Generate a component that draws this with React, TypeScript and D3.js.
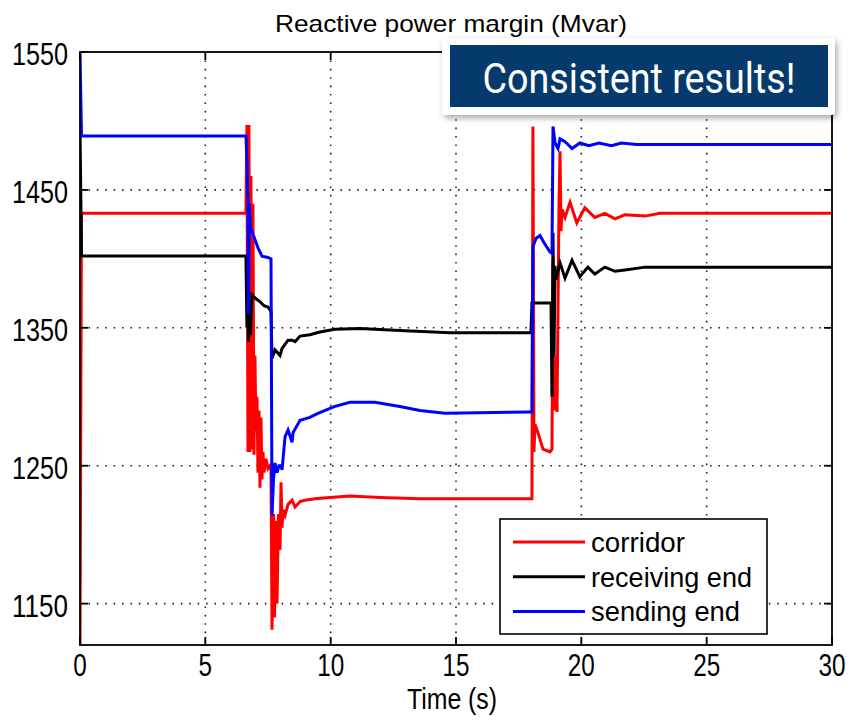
/**
 * Reactive power margin chart. D3 line + frame, ref+useEffect pattern, clear+redraw.
 */
import React, { useRef, useEffect } from 'react';
import * as d3 from 'd3';

const WIDTH = 856;
const HEIGHT = 721;
const PLOT = { left: 80, right: 832, top: 52, bottom: 645 };

const TIME_TICKS = [0, 5, 10, 15, 20, 25, 30];
const MARGIN_TICKS = [1150, 1250, 1350, 1450, 1550];
const SERIES_NAMES = ['corridor', 'receiving end', 'sending end'];

type Pt = [number, number];

// corridor (time s, Mvar)
const corridor: Pt[] = [
  [0, 1120], [0.06, 1433], [6.62, 1433], [6.66, 1497], [6.7, 1260], [6.74, 1497], [6.78, 1260],
  [6.82, 1460], [6.86, 1262], [6.9, 1440], [6.94, 1258], [6.98, 1330], [7.02, 1275], [7.06, 1300],
  [7.1, 1245], [7.14, 1290], [7.18, 1234], [7.22, 1285], [7.26, 1240], [7.3, 1260], [7.34, 1245],
  [7.42, 1255], [7.5, 1248], [7.58, 1250], [7.62, 1246], [7.66, 1131], [7.72, 1215], [7.76, 1140],
  [7.82, 1210], [7.86, 1150], [7.92, 1215], [7.98, 1189], [8.02, 1238], [8.06, 1205], [8.1, 1218],
  [8.18, 1214], [8.3, 1222], [8.46, 1225], [8.58, 1220], [8.78, 1224], [8.97, 1225], [9.37, 1226],
  [9.97, 1227], [10.77, 1228], [11.97, 1227], [13.56, 1226], [17.95, 1226], [18.03, 1226],
  [18.07, 1496], [18.11, 1260], [18.15, 1280], [18.27, 1274], [18.47, 1262], [18.75, 1260],
  [18.83, 1262], [18.87, 1400], [18.91, 1290], [18.95, 1330], [19.03, 1289], [19.11, 1440],
  [19.15, 1478], [19.19, 1420], [19.23, 1436], [19.35, 1430], [19.55, 1441], [19.82, 1426],
  [20.14, 1437], [20.54, 1430], [20.94, 1433], [21.34, 1429], [21.74, 1432], [22.54, 1431],
  [23.14, 1433], [30, 1433],
];

// receiving end
const receivingEnd: Pt[] = [
  [0, 1495], [0.06, 1402], [6.62, 1402], [6.66, 1350], [6.7, 1375], [6.72, 1340], [6.76, 1365],
  [6.8, 1345], [6.86, 1374], [7.02, 1371], [7.18, 1369], [7.34, 1366], [7.5, 1365], [7.62, 1362],
  [7.66, 1328], [7.78, 1334], [7.98, 1330], [8.06, 1335], [8.3, 1341], [8.46, 1341], [8.58, 1340],
  [8.78, 1344], [9.17, 1345], [9.57, 1347], [10.17, 1349], [11.17, 1349.5], [12.76, 1348],
  [14.76, 1346.5], [17.99, 1346.5], [18.03, 1368], [18.79, 1368], [18.83, 1300], [18.87, 1419],
  [18.91, 1330], [18.95, 1395], [18.99, 1385], [19.15, 1397], [19.35, 1386], [19.63, 1399],
  [19.94, 1387], [20.26, 1394], [20.54, 1389], [20.94, 1394], [21.34, 1391], [21.74, 1392],
  [22.54, 1394], [30, 1394],
];

// sending end
const sendingEnd: Pt[] = [
  [0, 1550], [0.06, 1489], [6.62, 1489], [6.66, 1472], [6.7, 1440], [6.72, 1360], [6.76, 1440],
  [6.8, 1422], [6.86, 1420], [7.02, 1412], [7.1, 1408], [7.26, 1402], [7.5, 1401], [7.62, 1400],
  [7.66, 1214], [7.72, 1240], [7.78, 1252], [7.86, 1245], [7.94, 1250], [8.02, 1250], [8.06, 1247],
  [8.18, 1271], [8.3, 1276], [8.46, 1267], [8.5, 1274], [8.78, 1283], [9.17, 1285], [9.49, 1288],
  [10.17, 1293], [10.77, 1296], [11.77, 1296], [12.76, 1293], [13.56, 1290], [14.56, 1288],
  [17.95, 1289], [18.03, 1289], [18.07, 1409], [18.2, 1415], [18.35, 1417], [18.5, 1412],
  [18.75, 1405], [18.83, 1404], [18.87, 1496], [18.95, 1484], [19.07, 1480], [19.15, 1487],
  [19.35, 1485], [19.63, 1480], [19.94, 1484], [20.3, 1482], [20.7, 1484], [21.2, 1482],
  [21.6, 1484], [22.2, 1483], [30, 1483],
];

const SERIES = [corridor, receivingEnd, sendingEnd];
const COLORS = ['#FF0000', '#000000', '#0000FF'];
const FONT = "'Liberation Sans', Arial, sans-serif";

const App: React.FC = () => {
  const svgRef = useRef<SVGSVGElement>(null);

  useEffect(() => {
    if (!svgRef.current) return;
    const svg = d3.select(svgRef.current);
    svg.selectAll('*').remove();

    const x = d3.scaleLinear().domain([0, 30]).range([PLOT.left, PLOT.right]);
    const y = d3.scaleLinear().domain([1120, 1550]).range([PLOT.bottom, PLOT.top]);

    svg.append('rect').attr('width', WIDTH).attr('height', HEIGHT).attr('fill', '#fff');

    const defs = svg.append('defs');
    defs.append('clipPath').attr('id', 'plot-clip')
      .append('rect')
      .attr('x', PLOT.left).attr('y', PLOT.top)
      .attr('width', PLOT.right - PLOT.left).attr('height', PLOT.bottom - PLOT.top);
    defs.append('filter').attr('id', 'shadow').attr('x', '-10%').attr('y', '-20%').attr('width', '120%').attr('height', '150%')
      .append('feDropShadow')
      .attr('dx', 2).attr('dy', 3).attr('stdDeviation', 3)
      .attr('flood-color', '#000').attr('flood-opacity', 0.35);

    // dotted grid
    const grid = svg.append('g').attr('stroke', '#222').attr('stroke-width', 1.6).attr('stroke-dasharray', '1.6,6.8');
    TIME_TICKS.filter((t) => t > 0 && t < 30).forEach((t) => {
      grid.append('line').attr('x1', x(t)).attr('x2', x(t)).attr('y1', PLOT.top).attr('y2', PLOT.bottom);
    });
    MARGIN_TICKS.filter((v) => v < 1550).forEach((v) => {
      grid.append('line').attr('x1', PLOT.left).attr('x2', PLOT.right).attr('y1', y(v)).attr('y2', y(v));
    });

    // series
    const line = d3.line<Pt>().x((d) => x(d[0])).y((d) => y(d[1]));
    const lines = svg.append('g').attr('clip-path', 'url(#plot-clip)');
    SERIES.forEach((s, i) => {
      lines.append('path')
        .attr('d', line(s) ?? '')
        .attr('fill', 'none')
        .attr('stroke', COLORS[i])
        .attr('stroke-width', 3)
        .attr('stroke-linejoin', 'miter');
    });

    // frame and inward ticks
    const frame = svg.append('g').attr('stroke', '#000').attr('stroke-width', 1.8);
    frame.append('rect')
      .attr('x', PLOT.left).attr('y', PLOT.top)
      .attr('width', PLOT.right - PLOT.left).attr('height', PLOT.bottom - PLOT.top)
      .attr('fill', 'none');
    TIME_TICKS.forEach((t) => {
      frame.append('line').attr('x1', x(t)).attr('x2', x(t)).attr('y1', PLOT.bottom).attr('y2', PLOT.bottom - 8);
      frame.append('line').attr('x1', x(t)).attr('x2', x(t)).attr('y1', PLOT.top).attr('y2', PLOT.top + 8);
    });
    MARGIN_TICKS.forEach((v) => {
      frame.append('line').attr('x1', PLOT.left).attr('x2', PLOT.left + 8).attr('y1', y(v)).attr('y2', y(v));
      frame.append('line').attr('x1', PLOT.right).attr('x2', PLOT.right - 8).attr('y1', y(v)).attr('y2', y(v));
    });

    // tick labels
    TIME_TICKS.forEach((t) => {
      const s = String(t);
      svg.append('text')
        .attr('x', x(t)).attr('y', 676)
        .attr('text-anchor', 'middle')
        .attr('font-family', FONT).attr('font-size', 32)
        .attr('textLength', s.length * 13.5).attr('lengthAdjust', 'spacingAndGlyphs')
        .attr('fill', '#000')
        .text(s);
    });
    MARGIN_TICKS.forEach((v) => {
      svg.append('text')
        .attr('x', 68).attr('y', y(v) + 13)
        .attr('text-anchor', 'end')
        .attr('font-family', FONT).attr('font-size', 32)
        .attr('textLength', 56).attr('lengthAdjust', 'spacingAndGlyphs')
        .attr('fill', '#000')
        .text(String(v));
    });

    svg.append('text')
      .attr('x', 452).attr('y', 709)
      .attr('text-anchor', 'middle')
      .attr('font-family', FONT).attr('font-size', 29)
      .attr('textLength', 90).attr('lengthAdjust', 'spacingAndGlyphs')
      .text('Time (s)');

    svg.append('text')
      .attr('x', 451).attr('y', 32)
      .attr('text-anchor', 'middle')
      .attr('font-family', FONT).attr('font-size', 24)
      .attr('textLength', 352).attr('lengthAdjust', 'spacingAndGlyphs')
      .text('Reactive power margin (Mvar)');

    // legend
    const lg = svg.append('g');
    lg.append('rect')
      .attr('x', 500).attr('y', 519).attr('width', 267).attr('height', 115)
      .attr('fill', '#fff').attr('stroke', '#000').attr('stroke-width', 1.6);
    const legendWidths = [94, 161, 149];
    SERIES_NAMES.forEach((name, i) => {
      const ly = 542 + i * 34.7;
      lg.append('line')
        .attr('x1', 513).attr('x2', 585).attr('y1', ly).attr('y2', ly)
        .attr('stroke', COLORS[i]).attr('stroke-width', 3);
      lg.append('text')
        .attr('x', 591).attr('y', ly + 10)
        .attr('font-family', FONT).attr('font-size', 28)
        .attr('textLength', legendWidths[i]).attr('lengthAdjust', 'spacingAndGlyphs')
        .text(name);
    });

    // callout
    const co = svg.append('g');
    co.append('rect')
      .attr('x', 442).attr('y', 38).attr('width', 393).attr('height', 77).attr('rx', 4)
      .attr('fill', '#fff').attr('filter', 'url(#shadow)');
    co.append('rect')
      .attr('x', 450).attr('y', 45).attr('width', 378).attr('height', 62)
      .attr('fill', '#063A6C');
    co.append('text')
      .attr('x', 639).attr('y', 93)
      .attr('text-anchor', 'middle')
      .attr('font-family', "Roboto, 'Liberation Sans', sans-serif").attr('font-size', 42)
      .attr('textLength', 313).attr('lengthAdjust', 'spacingAndGlyphs')
      .attr('fill', '#fff')
      .text('Consistent results!');
  }, []);

  return (
    <svg
      ref={svgRef}
      width={WIDTH}
      height={HEIGHT}
      style={{ position: 'absolute', left: 0, top: 0, display: 'block' }}
    />
  );
};

export default App;
